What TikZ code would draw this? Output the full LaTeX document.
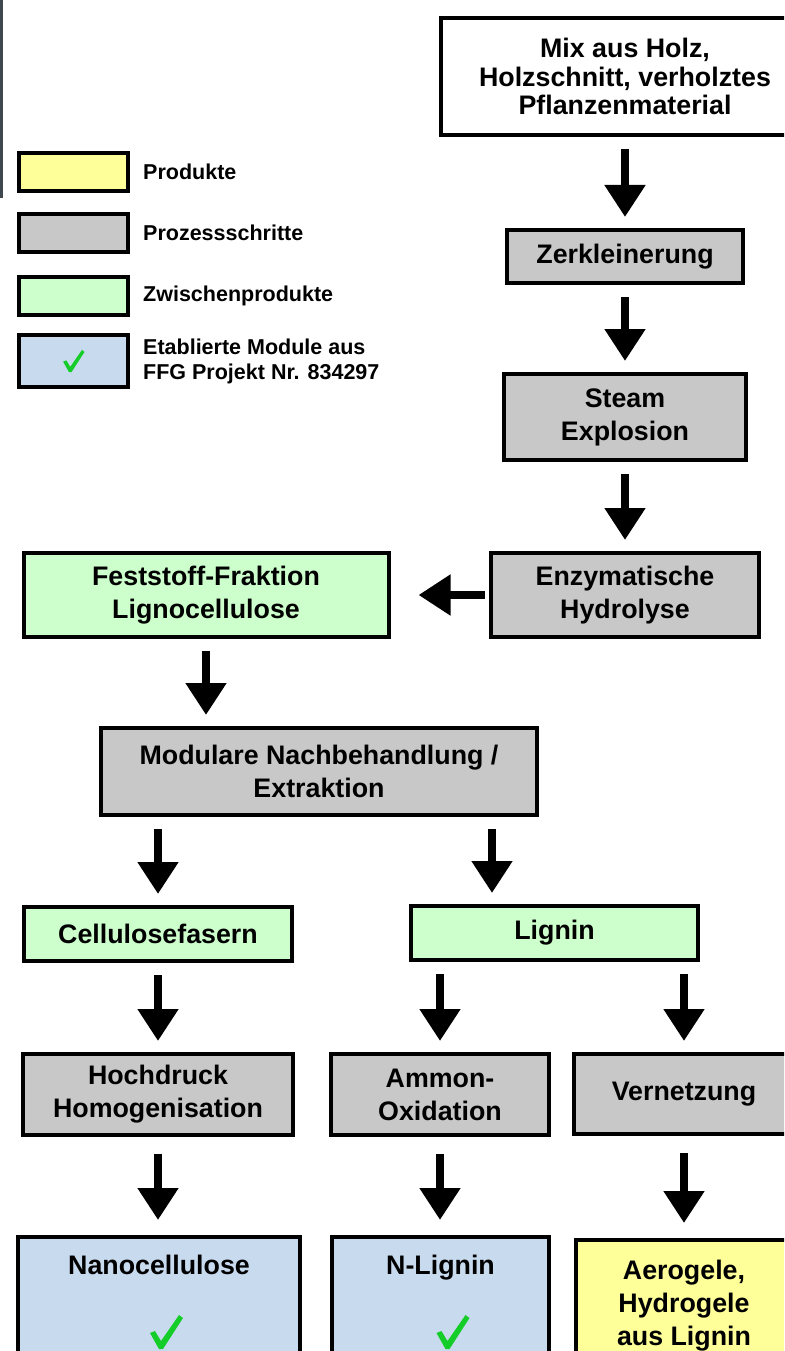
\documentclass[tikz,border=0pt]{standalone}
\usepackage{fontspec}
\setmainfont{Liberation Sans}
\usepackage{xcolor}
\usetikzlibrary{arrows.meta, positioning, calc}

\definecolor{prodyellow}{RGB}{255,255,153}
\definecolor{stepgray}{RGB}{200,200,200}
\definecolor{zwgreen}{RGB}{204,255,204}
\definecolor{modblue}{RGB}{200,218,238}
\definecolor{tickgreen}{RGB}{20,205,40}
\definecolor{edgebar}{RGB}{62,72,78}

\begin{document}
\begin{tikzpicture}[
    x=1pt, y=-1pt,
    box/.style={rectangle, draw, line width=4pt, fill=#1, align=center, inner sep=2pt,
                font=\fontsize{26.8}{33}\selectfont\bfseries},
    box/.default={stepgray},
    legbox/.style={rectangle, draw, line width=4pt, fill=#1, minimum width=109pt, minimum height=38pt},
    legtext/.style={font=\fontsize{21.5}{25}\selectfont\bfseries, align=left, inner sep=0pt},
    arr/.style={-{Triangle[width=39pt, length=32pt]}, line width=8pt, shorten <=12pt, shorten >=11pt},
    checkmk/.pic={\fill[tickgreen] (-16,1) -- (-11,-1) -- (-5,9) -- (13,-17) -- (17,-14) -- (-3,17) -- (-7,17) -- cycle;},
]
\useasboundingbox (0,0) rectangle (784,1351);
\clip (0,0) rectangle (784,1351);
\fill[white] (0,0) rectangle (784,1351);
\fill[edgebar] (0,0) rectangle (3,198);

% legend
\node[legbox=prodyellow] (leg1) at (73.5,172) {};
\node[legtext, right=13pt of leg1] (leg1t) {Produkte};
\node[legbox=stepgray] (leg2) at (73.5,232.5) {};
\node[legtext, right=13pt of leg2] (leg2t) {Prozessschritte};
\node[legbox=zwgreen] (leg3) at (73.5,296) {};
\node[legtext, right=13pt of leg3] (leg3t) {Zwischenprodukte};
\node[legbox=modblue, minimum height=52pt] (leg4) at (73.5,361) {};
\node[legtext, right=13pt of leg4] (leg4t) {Etablierte Module aus\\FFG Projekt Nr. 834297};
\pic[scale=0.65] at (leg4.center) {checkmk};

% main chain
\node[box=white, minimum width=368pt, minimum height=117pt,
      font=\fontsize{26.8}{28.5}\selectfont\bfseries] (mix) at (625,76.5)
      {Mix aus Holz,\\Holzschnitt, verholztes\\Pflanzenmaterial};
\node[box, minimum width=236pt, minimum height=53pt] (zerk) at (625,256.5) {Zerkleinerung};
\node[box, minimum width=242pt, minimum height=86pt] (steam) at (625,417) {Steam\\Explosion};
\node[box, minimum width=268pt, minimum height=84pt] (enz) at (625,595) {Enzymatische\\Hydrolyse};
\node[box=zwgreen, minimum width=365pt, minimum height=84pt] (fest) at (206,595) {Feststoff-Fraktion\\Lignocellulose};
\node[box, minimum width=436pt, minimum height=87pt] (modul) at (319,771.5) {Modulare Nachbehandlung /\\Extraktion};

% branches
\node[box=zwgreen, minimum width=268pt, minimum height=54pt] (cell) at (158,934) {Cellulosefasern};
\node[box=zwgreen, minimum width=287pt, minimum height=54pt] (lignin) at (554.5,933) {Lignin};
\node[box, minimum width=270pt, minimum height=81pt] (hoch) at (158,1094.5) {Hochdruck\\Homogenisation};
\node[box, minimum width=218pt, minimum height=81pt] (ammon) at (440,1094.5) {Ammon-\\Oxidation};
\node[box, minimum width=220pt, minimum height=80pt] (vern) at (684,1094) {Vernetzung};
\node[box=modblue, minimum width=282pt, minimum height=136pt, text depth=80pt] (nano) at (159,1305) {Nanocellulose};
\node[box=modblue, minimum width=217pt, minimum height=136pt, text depth=80pt] (nlig) at (440.5,1305) {N-Lignin};
\node[box=prodyellow, minimum width=216pt, minimum height=132pt] (aero) at (684,1306) {Aerogele,\\Hydrogele\\aus Lignin};
\pic at ($(nano.center)+(7,27)$) {checkmk};
\pic at ($(nlig.center)+(12,27)$) {checkmk};

\draw[arr] (mix) -- (zerk);
\draw[arr] (zerk) -- (steam);
\draw[arr] (steam) -- (enz);
\draw[arr, shorten <=4pt, shorten >=28pt] (enz) -- (fest);
\draw[arr] (fest.south) -- (fest.south |- modul.north);
\draw[arr] (cell.north |- modul.south) -- (cell.north);
\coordinate (split) at ([xshift=173pt]modul.south);
\draw[arr] (split) -- (split |- lignin.north);
\draw[arr] (cell) -- (hoch);
\draw[arr] (ammon.north |- lignin.south) -- (ammon.north);
\draw[arr] (vern.north |- lignin.south) -- (vern.north);
\draw[arr, shorten <=17pt, shorten >=15pt] (hoch.south) -- (hoch.south |- nano.north);
\draw[arr, shorten <=17pt, shorten >=15pt] (ammon.south) -- (ammon.south |- nlig.north);
\draw[arr, shorten <=17pt, shorten >=15pt] (vern) -- (aero);

\end{tikzpicture}
\end{document}
